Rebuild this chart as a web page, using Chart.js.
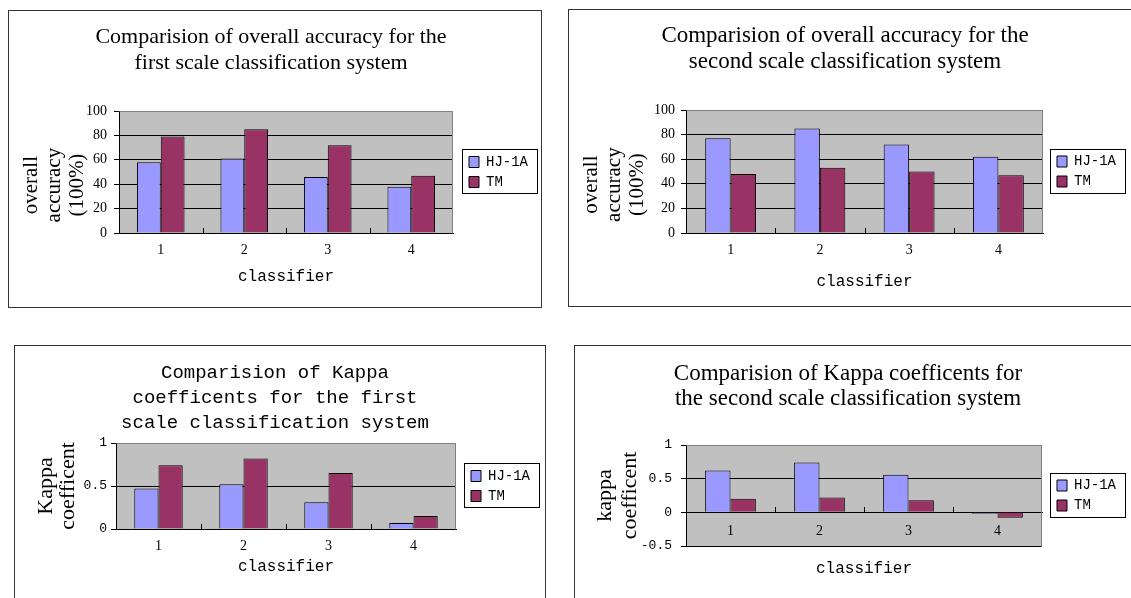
<!DOCTYPE html>
<html>
<head>
<meta charset="utf-8">
<script src="https://cdn.jsdelivr.net/npm/chart.js@4.4.1/dist/chart.umd.min.js"></script>
<style>
  html, body { margin: 0; padding: 0; background: #fff; }
  body { width: 1131px; height: 598px; position: relative; overflow: hidden; }
  .panel { position: absolute; border: 1px solid #333; box-sizing: border-box; }
  .panel canvas { position: absolute; left: 0; top: 0; }
</style>
</head>
<body>
<div class="panel" style="left:8px;top:10px;width:534px;height:298px"><canvas id="c1" width="532" height="295"></canvas></div>
<div class="panel" style="left:568px;top:9px;width:600px;height:298px"><canvas id="c2" width="560" height="295"></canvas></div>
<div class="panel" style="left:14px;top:345px;width:532px;height:300px"><canvas id="c3" width="530" height="256"></canvas></div>
<div class="panel" style="left:574px;top:345px;width:600px;height:300px"><canvas id="c4" width="556" height="256"></canvas></div>

<script>
const categories = ['1', '2', '3', '4'];
const seriesNames = ['HJ-1A', 'TM'];
const seriesColors = ['#9999FF', '#993366'];

// overall accuracy, first / second scale system
const oaFirstHJ = [58, 61, 46, 38];
const oaFirstTM = [79, 85, 72, 47];
const oaSecondHJ = [77, 85, 72, 62];
const oaSecondTM = [48, 53, 50, 47];

// kappa coefficents
const kappaFirstHJ = [0.47, 0.52, 0.31, 0.07];
const kappaFirstTM = [0.74, 0.82, 0.65, 0.15];
const kappaSecondHJ = [0.62, 0.74, 0.56, -0.02];
const kappaSecondTM = [0.20, 0.22, 0.18, -0.08];

// y axis ticks
const oaTicks = [0, 20, 40, 60, 80, 100];
const kappaFirstTicks = [0, 0.5, 1];
const kappaSecondTicks = [-0.5, 0, 0.5, 1];

Chart.defaults.color = '#000';
Chart.defaults.font.family = 'Liberation Serif';

// grey plot area, frame, little x ticks between categories, legend box
const plotFrame = {
    id: 'plotFrame',
    beforeDraw(chart) {
        const { ctx, chartArea: a } = chart;
        ctx.save();
        ctx.fillStyle = '#C0C0C0';
        ctx.fillRect(a.left, a.top, a.right - a.left, a.bottom - a.top);
        ctx.restore();
    },
    beforeDatasetsDraw(chart, args, opts) {
        const { ctx, chartArea: a } = chart;
        const xs = chart.scales.x;
        const base = opts.atZero ? Math.round(chart.scales.y.getPixelForValue(0)) : Math.round(a.bottom);
        ctx.save();
        ctx.lineWidth = 1;
        ctx.strokeStyle = '#808080';
        ctx.beginPath();
        ctx.moveTo(Math.round(a.left) + 0.5, Math.round(a.top) + 0.5);
        ctx.lineTo(Math.round(a.right) - 0.5, Math.round(a.top) + 0.5);
        ctx.lineTo(Math.round(a.right) - 0.5, Math.round(a.bottom) + 0.5);
        ctx.stroke();
        ctx.strokeStyle = '#000';
        ctx.beginPath();
        for (let i = 1; i < categories.length; i++) {
            const x = Math.round((xs.getPixelForTick(i - 1) + xs.getPixelForTick(i)) / 2) + 0.5;
            ctx.moveTo(x, base);
            ctx.lineTo(x, base - 5);
        }
        ctx.stroke();
        ctx.restore();
    },
    afterDraw(chart) {
        const boxes = chart.legend.legendHitBoxes;
        if (!boxes || !boxes.length) return;
        const first = boxes[0];
        const last = boxes[boxes.length - 1];
        const ctx = chart.ctx;
        ctx.save();
        ctx.strokeStyle = '#000';
        ctx.lineWidth = 1;
        ctx.strokeRect(Math.round(first.left - 7) + 0.5, Math.round(first.top - 6) + 0.5, 75,
            Math.round(last.top + last.height - first.top + 10));
        ctx.restore();
    }
};

function buildChart(id, o) {
    const x = {
        grid: { display: false, drawTicks: false },
        border: { display: true, color: '#000', width: 1 },
        ticks: { font: { family: 'Liberation Serif', size: 14 }, padding: o.xPad }
    };
    if (o.atZero) {
        x.position = { y: 0 };
    } else {
        x.title = {
            display: true, text: 'classifier',
            font: { family: 'Liberation Mono', size: 16, lineHeight: '16px' },
            padding: { top: 0, bottom: o.xTitlePad }
        };
        x.afterFit = s => { s.height = o.xHeight; };
    }

    return new Chart(document.getElementById(id), {
        type: 'bar',
        data: {
            labels: categories,
            datasets: [
                { label: seriesNames[0], data: o.hj, backgroundColor: seriesColors[0], borderColor: '#000', borderWidth: 1 },
                { label: seriesNames[1], data: o.tm, backgroundColor: seriesColors[1], borderColor: '#000', borderWidth: 1 }
            ]
        },
        options: {
            responsive: false,
            animation: false,
            devicePixelRatio: 1,
            layout: { padding: { left: 0, top: 0, bottom: 0, right: o.padRight } },
            datasets: { bar: { categoryPercentage: 0.57, barPercentage: 1 } },
            scales: {
                x: x,
                y: {
                    min: o.ticks[0],
                    max: o.ticks[o.ticks.length - 1],
                    afterBuildTicks: s => { s.ticks = o.ticks.map(v => ({ value: v })); },
                    afterFit: s => { s.width = o.yWidth; },
                    grid: {
                        color: c => (c.tick && c.tick.value === o.ticks[o.ticks.length - 1]) ? '#808080' : '#000',
                        tickColor: '#000',
                        tickLength: 5
                    },
                    border: { color: '#000' },
                    ticks: { font: o.yTickFont, padding: o.yPad, callback: v => String(v) },
                    title: {
                        display: true, text: o.yTitle,
                        font: { family: 'Liberation Serif', size: o.yTitleSize, lineHeight: o.yTitleLH + 'px' },
                        padding: { top: o.yTitlePad, bottom: 0 }
                    }
                },
                gap: {
                    type: 'linear', position: 'right', display: true,
                    grid: { display: false, drawTicks: false },
                    border: { display: false },
                    ticks: { display: false },
                    afterFit: s => { s.width = o.gap; }
                }
            },
            plugins: {
                title: {
                    display: true, text: o.title,
                    font: { family: o.titleFamily, size: o.titleSize, weight: 'normal', lineHeight: o.titleLH + 'px' },
                    padding: { top: o.titlePadTop, bottom: o.titlePadBottom }
                },
                subtitle: {
                    display: !!o.atZero, text: 'classifier', position: 'bottom', fullSize: false,
                    font: { family: 'Liberation Mono', size: 16, lineHeight: '16px' },
                    padding: { top: 15, bottom: 25 }
                },
                legend: {
                    position: 'right', align: 'center', fullSize: false, maxWidth: 70,
                    labels: { boxWidth: 10, boxHeight: 11, padding: 6, font: { family: 'Liberation Mono', size: 14 } }
                },
                tooltip: { enabled: false },
                plotFrame: { atZero: !!o.atZero }
            }
        },
        plugins: [plotFrame]
    });
}

const serifTicks = { family: 'Liberation Serif', size: 14 };
const monoTicks = { family: 'Liberation Mono', size: 13 };

buildChart('c1', {
    hj: oaFirstHJ, tm: oaFirstTM, ticks: oaTicks,
    title: ['Comparision of overall accuracy for the', 'first scale classification system'],
    titleFamily: 'Liberation Serif', titleSize: 22, titleLH: 26, titlePadTop: 13, titlePadBottom: 35,
    yTitle: ['overall     ', 'accuracy     ', '(100%)     '], yTitleSize: 21, yTitleLH: 23, yTitlePad: 11,
    yWidth: 110, yPad: 7, yTickFont: serifTicks,
    xPad: 9, xHeight: 73, xTitlePad: 21,
    gap: 10, padRight: 8
});

buildChart('c2', {
    hj: oaSecondHJ, tm: oaSecondTM, ticks: oaTicks,
    title: ['Comparision of overall accuracy for the', 'second scale classification system'],
    titleFamily: 'Liberation Serif', titleSize: 23, titleLH: 26, titlePadTop: 13, titlePadBottom: 35,
    yTitle: ['overall     ', 'accuracy     ', '(100%)     '], yTitleSize: 21, yTitleLH: 23, yTitlePad: 11,
    yWidth: 117, yPad: 6, yTickFont: serifTicks,
    xPad: 9, xHeight: 72, xTitlePad: 15,
    gap: 8, padRight: 8
});

buildChart('c3', {
    hj: kappaFirstHJ, tm: kappaFirstTM, ticks: kappaFirstTicks,
    title: ['Comparision of Kappa', 'coefficents for the first', 'scale classification system'],
    titleFamily: 'Liberation Mono', titleSize: 19, titleLH: 25, titlePadTop: 14.5, titlePadBottom: 7.5,
    yTitle: ['Kappa', 'coefficent'], yTitleSize: 22, yTitleLH: 22, yTitlePad: 20,
    yWidth: 101, yPad: 4, yTickFont: monoTicks,
    xPad: 9, xHeight: 73, xTitlePad: 27,
    gap: 9, padRight: 10
});

buildChart('c4', {
    hj: kappaSecondHJ, tm: kappaSecondTM, ticks: kappaSecondTicks, atZero: true,
    title: ['Comparision of Kappa coefficents for', 'the second scale classification system'],
    titleFamily: 'Liberation Serif', titleSize: 23, titleLH: 25, titlePadTop: 15.5, titlePadBottom: 33.5,
    yTitle: ['kappa', 'coefficent'], yTitleSize: 22, yTitleLH: 25, yTitlePad: 18,
    yWidth: 111, yPad: 9, yTickFont: monoTicks,
    xPad: 11,
    gap: 9, padRight: 10
});
</script>
</body>
</html>
